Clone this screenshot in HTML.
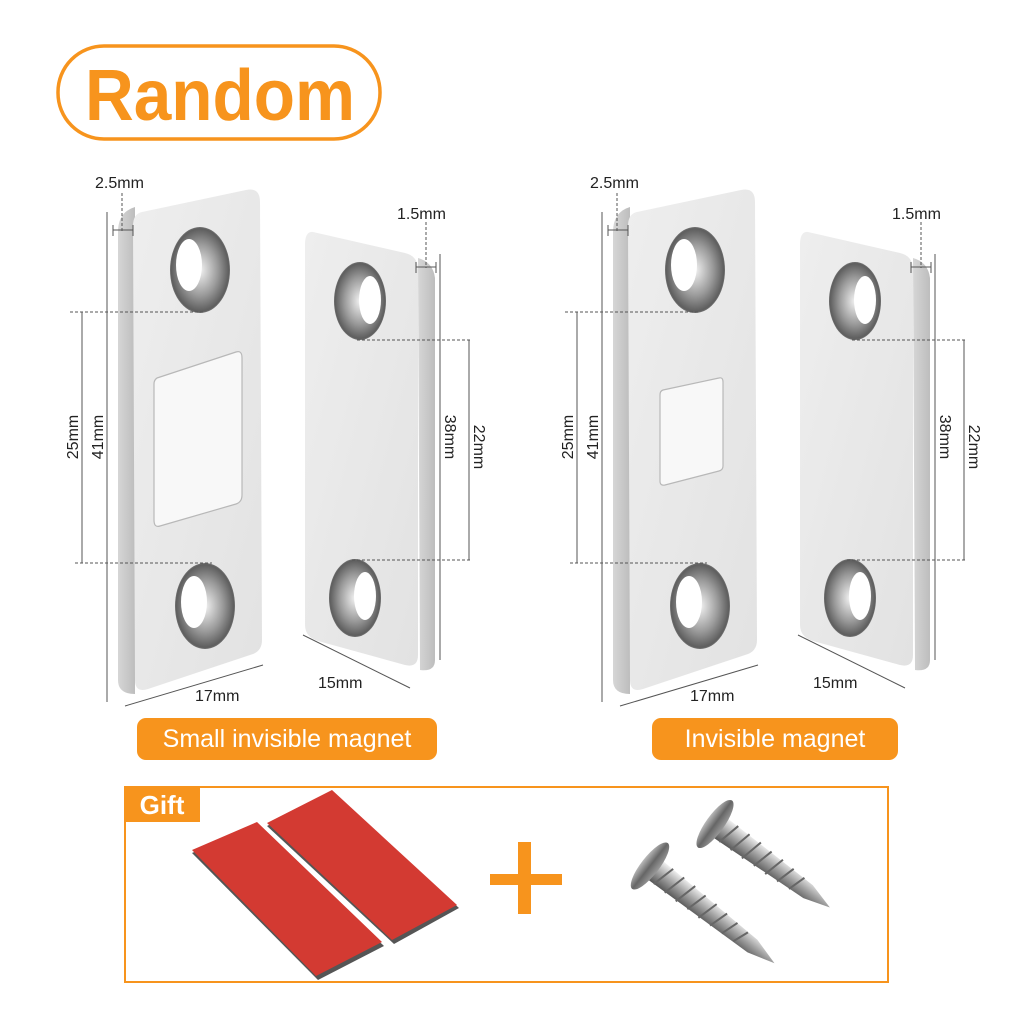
<!DOCTYPE html>
<html><head><meta charset="utf-8"><style>
html,body{margin:0;padding:0;background:#fff;}
svg{display:block;}
text{font-family:"Liberation Sans",sans-serif;}
</style></head><body>
<svg width="1024" height="1024" viewBox="0 0 1024 1024" xmlns="http://www.w3.org/2000/svg">
<defs>
<radialGradient id="hole" cx="0.5" cy="0.5" r="0.6">
<stop offset="0" stop-color="#f2f2f2"/><stop offset="0.5" stop-color="#9a9a9a"/><stop offset="0.8" stop-color="#5e5e5e"/><stop offset="1" stop-color="#d8d8d8"/>
</radialGradient>
<linearGradient id="front" x1="0" y1="0" x2="1" y2="1">
<stop offset="0" stop-color="#eeeeee"/><stop offset="1" stop-color="#e2e2e2"/>
</linearGradient>
<linearGradient id="side" x1="0" y1="0" x2="1" y2="0">
<stop offset="0" stop-color="#d6d6d6"/><stop offset="1" stop-color="#bdbdbd"/>
</linearGradient>
<linearGradient id="shank" x1="0" y1="0" x2="0" y2="1">
<stop offset="0" stop-color="#f2f2f2"/><stop offset="0.5" stop-color="#a0a0a0"/><stop offset="1" stop-color="#555"/>
</linearGradient>
<linearGradient id="head" x1="0" y1="0" x2="1" y2="0">
<stop offset="0" stop-color="#bbb"/><stop offset="0.5" stop-color="#666"/><stop offset="1" stop-color="#999"/>
</linearGradient>

<g id="big">
<path d="M135,207 Q118,212 118,232 L118,680 Q118,694 135,694 Z" fill="url(#side)"/>
<path d="M142,212 L246,190 Q260,187 260,202 L262,640 Q262,652 250,655 L148,689 Q135,693 135,680 L133,226 Q133,214 142,212 Z" fill="url(#front)"/>
<ellipse cx="200" cy="270" rx="30" ry="43" fill="url(#hole)"/>
<ellipse cx="189" cy="265" rx="13" ry="26" fill="#fff"/>
<ellipse cx="205" cy="606" rx="30" ry="43" fill="url(#hole)"/>
<ellipse cx="194" cy="602" rx="13" ry="26" fill="#fff"/>
</g>
<g id="small">
<path d="M418,258 Q433,262 435,278 L435,660 Q435,672 420,670 Z" fill="url(#side)"/>
<path d="M313,232 L405,253 Q418,256 418,270 L418,655 Q418,668 405,665 L318,641 Q305,637 305,625 L305,245 Q305,231 313,232 Z" fill="url(#front)"/>
<ellipse cx="360" cy="301" rx="26" ry="39" fill="url(#hole)"/>
<ellipse cx="370" cy="300" rx="11" ry="24" fill="#fff"/>
<ellipse cx="355" cy="598" rx="26" ry="39" fill="url(#hole)"/>
<ellipse cx="365" cy="596" rx="11" ry="24" fill="#fff"/>
</g>
<g id="dims" stroke="#555" stroke-width="1" fill="none">
<line x1="122" y1="193" x2="122" y2="232" stroke-dasharray="3,2"/>
<line x1="113" y1="230" x2="133" y2="230"/>
<line x1="113" y1="225" x2="113" y2="236"/><line x1="133" y1="225" x2="133" y2="236"/>
<line x1="107" y1="212" x2="107" y2="702"/>
<line x1="82" y1="312" x2="82" y2="563"/>
<line x1="70" y1="312" x2="205" y2="312" stroke-dasharray="3,2"/>
<line x1="75" y1="563" x2="212" y2="563" stroke-dasharray="3,2"/>
<line x1="125" y1="706" x2="263" y2="665"/>
<line x1="426" y1="222" x2="426" y2="268" stroke-dasharray="3,2"/>
<line x1="416" y1="267" x2="436" y2="267"/>
<line x1="416" y1="262" x2="416" y2="273"/><line x1="436" y1="262" x2="436" y2="273"/>
<line x1="440" y1="254" x2="440" y2="660"/>
<line x1="469" y1="340" x2="469" y2="560"/>
<line x1="357" y1="340" x2="470" y2="340" stroke-dasharray="3,2"/>
<line x1="352" y1="560" x2="470" y2="560" stroke-dasharray="3,2"/>
<line x1="303" y1="635" x2="410" y2="688"/>
</g>
<g id="dimtext" fill="#222" font-size="16">
<text x="95" y="188">2.5mm</text>
<text x="397" y="219">1.5mm</text>
<text x="195" y="701">17mm</text>
<text x="318" y="688">15mm</text>
<text transform="translate(78,437) rotate(-90)" text-anchor="middle">25mm</text>
<text transform="translate(103,437) rotate(-90)" text-anchor="middle">41mm</text>
<text transform="translate(445,437) rotate(90)" text-anchor="middle">38mm</text>
<text transform="translate(474,447) rotate(90)" text-anchor="middle">22mm</text>
</g>
</defs>

<rect x="58" y="46" width="322" height="93" rx="46" fill="none" stroke="#f7941d" stroke-width="3.5"/>
<text x="220" y="120" text-anchor="middle" font-size="72" font-weight="bold" fill="#f7941d" textLength="270" lengthAdjust="spacingAndGlyphs">Random</text>

<use href="#big"/><use href="#small"/><use href="#dims"/><use href="#dimtext"/>
<path d="M157,378 L236,352 Q242,350 242,358 L242,495 Q242,502 236,504 L160,526 Q154,528 154,520 L154,384 Q154,380 157,378Z" fill="#f8f8f8" stroke="#b8b8b8" stroke-width="1.2"/>

<g transform="translate(495,0)">
<use href="#big"/><use href="#small"/><use href="#dims"/><use href="#dimtext"/>
<path d="M168,390 L224,378 Q228,377 228,382 L228,466 Q228,470 224,471 L170,485 Q165,486 165,481 L165,395 Q165,391 168,390Z" fill="#f8f8f8" stroke="#b8b8b8" stroke-width="1.2"/>
</g>

<rect x="137" y="718" width="300" height="42" rx="9" fill="#f7941d"/>
<text x="287" y="747" text-anchor="middle" font-size="25" fill="#fff">Small invisible magnet</text>
<rect x="652" y="718" width="246" height="42" rx="9" fill="#f7941d"/>
<text x="775" y="747" text-anchor="middle" font-size="25" fill="#fff">Invisible magnet</text>

<rect x="125" y="787" width="763" height="195" fill="none" stroke="#f7941d" stroke-width="2"/>
<rect x="124" y="786" width="76" height="36" fill="#f7941d"/>
<text x="162" y="814" text-anchor="middle" font-size="26" font-weight="bold" fill="#fff">Gift</text>

<polygon points="192,853 257,824 384,946 318,980" fill="#555"/>
<polygon points="192,850 257,822 382,942 316,976" fill="#d33a32"/>
<polygon points="267,826 332,792 459,908 394,944" fill="#555"/>
<polygon points="267,823 332,790 457,905 392,940" fill="#d33a32"/>

<rect x="490" y="874" width="72" height="11" fill="#f7941d"/>
<rect x="518" y="842" width="13" height="72" fill="#f7941d"/>

<g>
<g transform="translate(650,866) rotate(38)">
<polygon points="6,-12 130,-8 158,0 130,8 6,12" fill="url(#shank)"/>
<g stroke="#666" stroke-width="2">
<line x1="20" y1="-12" x2="14" y2="12"/><line x1="34" y1="-12" x2="28" y2="12"/><line x1="48" y1="-12" x2="42" y2="12"/><line x1="62" y1="-11" x2="56" y2="11"/><line x1="76" y1="-11" x2="70" y2="11"/><line x1="90" y1="-10" x2="84" y2="10"/><line x1="104" y1="-9" x2="98" y2="9"/><line x1="118" y1="-8" x2="112" y2="8"/>
</g>
<ellipse cx="0" cy="0" rx="9" ry="29" fill="url(#head)"/>
</g>
<g transform="translate(715,824) rotate(36)">
<polygon points="6,-12 115,-8 142,0 115,8 6,12" fill="url(#shank)"/>
<g stroke="#666" stroke-width="2">
<line x1="20" y1="-12" x2="14" y2="12"/><line x1="34" y1="-12" x2="28" y2="12"/><line x1="48" y1="-12" x2="42" y2="12"/><line x1="62" y1="-11" x2="56" y2="11"/><line x1="76" y1="-11" x2="70" y2="11"/><line x1="90" y1="-10" x2="84" y2="10"/><line x1="104" y1="-9" x2="98" y2="9"/>
</g>
<ellipse cx="0" cy="0" rx="9" ry="29" fill="url(#head)"/>
</g>
</g>
</svg>
</body></html>
